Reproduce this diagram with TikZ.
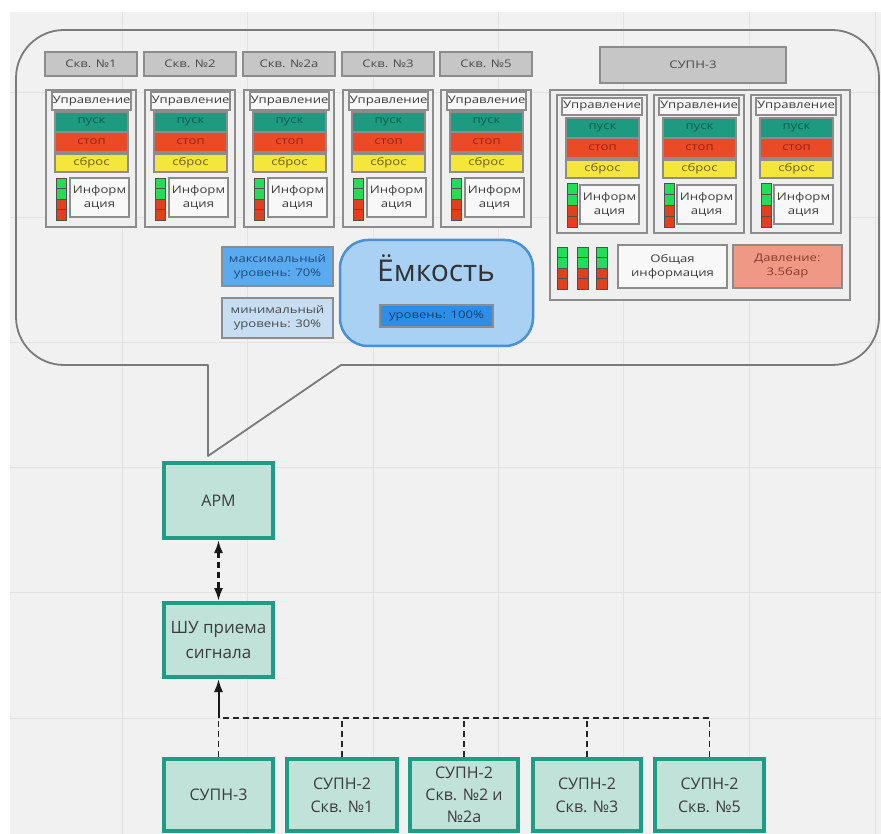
\documentclass[tikz,border=0pt]{standalone}
\usepackage{fontspec}
\setmainfont{Open Sans}
\newfontfamily\smf[FakeStretch=1.25]{Open Sans}
\usetikzlibrary{arrows.meta}
\definecolor{bg}{HTML}{F1F1F1}
\definecolor{gridc}{HTML}{E2E2E2}
\definecolor{bubc}{HTML}{7A7A7A}
\definecolor{hdrf}{HTML}{C6C6C6}
\definecolor{hdrb}{HTML}{8C8C8C}
\definecolor{pnlf}{HTML}{EFEFEF}
\definecolor{ctlf}{HTML}{F8F8F8}
\definecolor{txtg}{HTML}{4A4A4A}
\definecolor{puskc}{HTML}{1E9A80}
\definecolor{puskt}{HTML}{0E5E4E}
\definecolor{stopc}{HTML}{EA4A26}
\definecolor{stopt}{HTML}{9A2410}
\definecolor{sbrosc}{HTML}{F5E63C}
\definecolor{sbrost}{HTML}{6E6010}
\definecolor{indg}{HTML}{22DD55}
\definecolor{indr}{HTML}{E0401E}
\definecolor{indb}{HTML}{505050}
\definecolor{presf}{HTML}{EE9885}
\definecolor{prest}{HTML}{8A3A2A}
\definecolor{maxf}{HTML}{5AAAF0}
\definecolor{maxt}{HTML}{24487A}
\definecolor{minf}{HTML}{C6DDF2}
\definecolor{tankf}{HTML}{A9D1F4}
\definecolor{tankb}{HTML}{4B90D2}
\definecolor{levf}{HTML}{2D8EE8}
\definecolor{levt}{HTML}{1A3A6A}
\definecolor{tealf}{HTML}{C0E2D9}
\definecolor{tealb}{HTML}{1F9C84}
\definecolor{darkt}{HTML}{3C3C3C}

\newcommand{\mybox}[7]{%
  \pgfmathsetmacro\bxcx{((#2)+(#4))/2}\pgfmathsetmacro\bxcy{((#3)+(#5))/2}%
  \pgfmathsetmacro\bxw{(#4)-(#2)}\pgfmathsetmacro\bxh{(#5)-(#3)}%
  \node[#6, minimum width=\bxw pt, minimum height=\bxh pt, inner sep=0pt] (#1) at (\bxcx,\bxcy) {#7};}

\newcommand{\indic}[4]{%
  \pgfmathsetmacro\ibx{((#4)-(#2))/4}%
  \foreach \k/\c in {0/indg,1/indg,2/indr,3/indr}
    \filldraw[fill=\c, draw=indb, line width=0.8] (#1,{#2+\k*\ibx}) rectangle (#3,{#2+\k*\ibx+\ibx});}

\newcommand{\wellblk}[3]{%
  \mybox{wh#1}{#2}{52}{#2+92}{76}{hdr}{#3}
  \mybox{wp#1}{#2+1}{90}{#2+91}{227}{pnl}{}
  \mybox{wc#1}{#2+7}{92}{#2+86}{110}{ctl}{Управление}
  \mybox{wa#1}{#2+10}{112}{#2+83}{132}{pusk}{пуск}
  \mybox{wb#1}{#2+10}{132}{#2+83}{152}{stopbtn}{стоп}
  \mybox{wr#1}{#2+10}{154}{#2+83}{172}{sbros}{сброс}
  \indic{#2+11}{178}{#2+21}{220}
  \mybox{wi#1}{#2+25}{178}{#2+84}{217}{info}{Информ\\ация}}

\newcommand{\supsub}[2]{%
  \mybox{sp#1}{#2}{95}{#2+90}{233}{pnl}{}
  \mybox{sc#1}{#2+5}{98}{#2+85}{115}{ctl}{Управление}
  \mybox{sa#1}{#2+9}{118}{#2+82}{138}{pusk}{пуск}
  \mybox{sb#1}{#2+9}{138}{#2+82}{158}{stopbtn}{стоп}
  \mybox{sr#1}{#2+9}{160}{#2+82}{178}{sbros}{сброс}
  \indic{#2+10}{183}{#2+20}{227}
  \mybox{si#1}{#2+23}{185}{#2+82}{224}{info}{Информ\\ация}}

\tikzset{
  smtext/.style={font=\smf\fontsize{10.5}{14}\selectfont},
  hdr/.style={draw=hdrb, fill=hdrf, line width=2, smtext, text=txtg},
  pnl/.style={draw=hdrb, fill=pnlf, line width=2},
  ctl/.style={draw=hdrb, fill=ctlf, line width=1.6, smtext, text=darkt},
  pusk/.style={draw=hdrb, fill=puskc, line width=1.2, smtext, text=puskt},
  stopbtn/.style={draw=hdrb, fill=stopc, line width=1.2, smtext, text=stopt},
  sbros/.style={draw=hdrb, fill=sbrosc, line width=1.2, smtext, text=sbrost},
  info/.style={draw=hdrb, fill=ctlf, line width=2, align=center, smtext, text=darkt},
  teal/.style={draw=tealb, fill=tealf, line width=4, align=center, text=darkt,
    font=\fontsize{16}{23}\selectfont},
  busline/.style={draw=black!85, line width=1.6, dash pattern=on 6pt off 4pt},
  tip/.style={-{Latex[length=13pt,width=9pt]}},
}

\begin{document}
\begin{tikzpicture}[x=1pt,y=-1pt]
\useasboundingbox (0,0) rectangle (881,834);
\fill[white] (0,0) rectangle (881,834);
\fill[bg] (10,12) rectangle (881,834);
\foreach \gx in {122,247.5,373,498,623.5,749,875}
  \draw[gridc, line width=0.8] (\gx,12) -- (\gx,834);
\foreach \gy in {92,217,342,467,592.5,718}
  \draw[gridc, line width=0.8] (10,\gy) -- (881,\gy);

% speech bubble
\draw[bubc, line width=1.8, line join=round]
  (341,365) -- (832,365) .. controls (858.5,365) and (879,343.5) .. (879,317)
  -- (879,78) .. controls (879,51.5) and (858.5,30) .. (832,30)
  -- (64,30) .. controls (37.5,30) and (16,51.5) .. (16,78)
  -- (16,317) .. controls (16,343.5) and (37.5,365) .. (64,365)
  -- (208,365) -- (208,456) -- cycle;

% wells
\wellblk{1}{45}{Скв. №1}
\wellblk{2}{144}{Скв. №2}
\wellblk{3}{243}{Скв. №2а}
\wellblk{4}{342}{Скв. №3}
\wellblk{5}{440}{Скв. №5}

% SUPN-3 block
\mybox{suph}{600}{47}{786}{83}{hdr}{СУПН-3}
\mybox{supp}{550}{90}{850}{300}{pnl}{}
\supsub{1}{557}
\supsub{2}{654}
\supsub{3}{751}
\indic{557}{247}{567}{289}
\indic{577}{247}{588}{289}
\indic{596}{247}{607}{289}
\mybox{gen}{618}{245}{727}{288}{info}{Общая\\информация}
\mybox{pres}{733}{245}{842}{288}{info, fill=presf, text=prest}{Давление:\\3.5бар}

% tank
\mybox{maxl}{222}{247}{333}{286}{info, fill=maxf, text=maxt}{максимальный\\уровень: 70\%}
\mybox{minl}{222}{298}{333}{338}{info, fill=minf, text=txtg}{минимальный\\уровень: 30\%}
\draw[tankb, fill=tankf, line width=2.5, rounded corners=28pt] (340,240) rectangle (533,346);
\node[font=\fontsize{30}{32}\selectfont, text=black!80] (emk) at (436,268) {Ёмкость};
\mybox{lev}{380}{305}{493}{327}{info, fill=levf, text=levt, line width=1.6}{уровень: 100\%}

% flow
\mybox{arm}{164}{463}{273}{538}{teal}{АРМ}
\mybox{shu}{164}{603}{273}{677}{teal, font=\fontsize{17}{25}\selectfont}{ШУ приема\\сигнала}
\mybox{b1}{164}{759}{273}{831}{teal}{СУПН-3}
\mybox{b2}{287}{759}{397}{831}{teal}{СУПН-2\\Скв. №1}
\mybox{b3}{410}{759}{518}{831}{teal, font=\fontsize{16}{22}\selectfont}{СУПН-2\\Скв. №2 и\\№2а}
\mybox{b4}{533}{759}{641}{831}{teal}{СУПН-2\\Скв. №3}
\mybox{b5}{655}{759}{764}{831}{teal}{СУПН-2\\Скв. №5}

\coordinate (bus) at (218.5,718);
\draw[busline] (b5.north) -- (b5.north |- bus) -- (bus);
\draw[busline] (b1.north) -- (bus);
\draw[busline] (b2.north) -- (b2.north |- bus);
\draw[busline] (b3.north) -- (b3.north |- bus);
\draw[busline] (b4.north) -- (b4.north |- bus);
\draw[black!90, line width=2, tip] (bus) -- (shu.south);
\draw[black!90, line width=2.2, dash pattern=on 6pt off 4pt,
  {Latex[length=13pt,width=9pt]}-{Latex[length=13pt,width=9pt]}] (arm.south) -- (shu.north);
\end{tikzpicture}
\end{document}
